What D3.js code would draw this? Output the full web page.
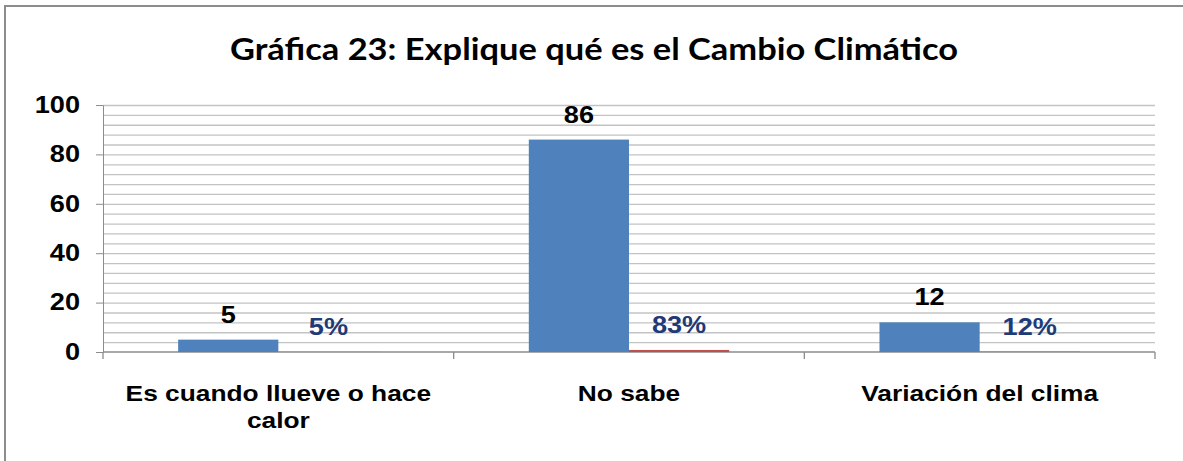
<!DOCTYPE html>
<html>
<head>
<meta charset="utf-8">
<script src="https://cdn.jsdelivr.net/npm/d3@7"></script>
<style>
  html, body { margin: 0; padding: 0; background: #ffffff; }
  svg { display: block; }
</style>
</head>
<body>
<script>
const categories = ["Es cuando llueve o hace calor", "No sabe", "Variación del clima"];
const categoryLines = [["Es cuando llueve o hace", "calor"], ["No sabe"], ["Variación del clima"]];
const counts = [5, 86, 12];
const percents = [0.05, 0.83, 0.12];
const yTicks = [0, 20, 40, 60, 80, 100];
const title = "Gráfica 23: Explique qué es el Cambio Climático";

(function () {
const W = 1183, H = 461;
const sx = 1.18; // horizontal stretch of text in the reference
const svg = d3.select("body").append("svg").attr("width", W).attr("height", H);

// outer chart frame (only top and left visible)
svg.append("rect").attr("x", 5).attr("y", 6).attr("width", W + 20).attr("height", H + 20)
  .attr("fill", "#fff").attr("stroke", "#8c8c8c").attr("stroke-width", 2);

const pLeft = 103, pRight = 1155, pTop = 105, pBottom = 352;
const x0 = d3.scaleBand().domain(categories).range([pLeft, pRight]).paddingInner(0).paddingOuter(0);
const x1 = d3.scaleBand().domain(["n", "p"]).range([0, x0.bandwidth()]).paddingInner(0).paddingOuter(0.75);
const y = d3.scaleLinear().domain([0, 100]).range([pBottom, pTop]);

// gridlines every 4
const grid = svg.append("g").attr("transform", `translate(${pLeft},0)`)
  .call(d3.axisLeft(y).tickValues(d3.range(4, 101, 4)).tickSize(-(pRight - pLeft)).tickFormat(""));
grid.select(".domain").remove();
grid.selectAll("line").attr("stroke", "#c3c3c3").attr("stroke-width", 1.3);

// y axis
const yAxis = svg.append("g").attr("transform", `translate(${pLeft},0)`)
  .call(d3.axisLeft(y).tickValues(yTicks).tickSize(7).tickPadding(12.5).tickSizeOuter(0));
yAxis.select(".domain").attr("stroke", "#8c8c8c");
yAxis.selectAll("line").attr("stroke", "#8c8c8c");
yAxis.selectAll("text")
  .attr("font-family", "'Liberation Sans', Arial, sans-serif")
  .attr("font-weight", "bold").attr("font-size", 23).attr("fill", "#000")
  .attr("transform", `scale(${sx},1)`);

// x axis line and boundary ticks
svg.append("line").attr("x1", pLeft).attr("x2", pRight).attr("y1", pBottom).attr("y2", pBottom)
  .attr("stroke", "#8c8c8c").attr("stroke-width", 1.3);
const edges = categories.map(c => x0(c)).concat([pRight]);
svg.append("g").selectAll("line").data(edges).join("line")
  .attr("x1", d => d).attr("x2", d => d).attr("y1", pBottom).attr("y2", pBottom + 7)
  .attr("stroke", "#8c8c8c").attr("stroke-width", 1.3);

// bars
const groups = svg.append("g").selectAll("g").data(categories).join("g")
  .attr("transform", d => `translate(${x0(d)},0)`);
groups.append("rect")
  .attr("x", x1("n")).attr("width", x1.bandwidth())
  .attr("y", (d, i) => y(counts[i])).attr("height", (d, i) => y(0) - y(counts[i]))
  .attr("fill", "#4f81bd");
groups.append("rect")
  .attr("x", x1("p")).attr("width", x1.bandwidth())
  .attr("y", (d, i) => y(percents[i])).attr("height", (d, i) => y(0) - y(percents[i]))
  .attr("fill", "#c0504d");

function stretchedText(sel, xPos, yPos) {
  return sel.attr("transform", `translate(${xPos},${yPos}) scale(${sx},1)`)
    .attr("text-anchor", "middle")
    .attr("font-family", "'Liberation Sans', Arial, sans-serif")
    .attr("font-weight", "bold");
}

// value labels
groups.each(function (d, i) {
  const g = d3.select(this);
  stretchedText(g.append("text"), x1("n") + x1.bandwidth() / 2, y(counts[i]) - 17)
    .attr("font-size", 23).attr("fill", "#000").text(counts[i]);
  stretchedText(g.append("text"), x1("p") + x1.bandwidth() / 2, y(percents[i]) - 17)
    .attr("font-size", 23).attr("fill", "#1f3a78").text(d3.format(".0%")(percents[i]));
});

// category labels
groups.each(function (d, i) {
  const g = d3.select(this);
  categoryLines[i].forEach((line, j) => {
    stretchedText(g.append("text"), x0.bandwidth() / 2, 401 + j * 27)
      .attr("font-size", 22.3).attr("fill", "#000").text(line);
  });
});

// title
svg.append("text").attr("x", 594).attr("y", 60).attr("text-anchor", "middle")
  .attr("font-family", "Lato, 'Open Sans', sans-serif").attr("font-weight", "bold")
  .attr("font-size", 31).attr("fill", "#000")
  .attr("textLength", 728).attr("lengthAdjust", "spacingAndGlyphs")
  .text(title);
})();
</script>
</body>
</html>
